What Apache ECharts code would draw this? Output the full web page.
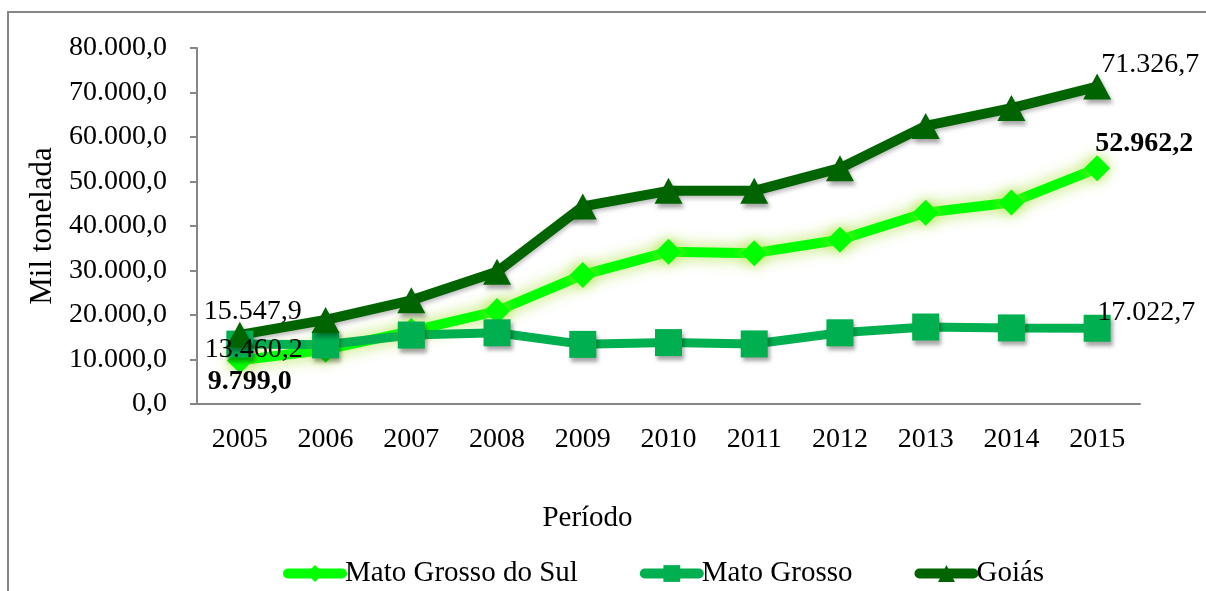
<!DOCTYPE html>
<html>
<head>
    <meta charset="utf-8">
    <title>Produção</title>
    <script src="https://cdn.jsdelivr.net/npm/echarts@6/dist/echarts.min.js"></script>
    <style>
        html, body { margin: 0; padding: 0; background: #fff; }
    </style>
</head>
<body>
    <div id="main" style="width: 1206px;height:591px;"></div>

    <script type="text/javascript">
    // dados
    var anos = ['2005', '2006', '2007', '2008', '2009', '2010', '2011', '2012', '2013', '2014', '2015'];
    var matoGrossoSul = [9799.0, 12200, 16400, 20900, 29000, 34200, 33900, 36900, 43000, 45300, 52962.2];
    var matoGrosso = [13460.2, 13300, 15500, 16000, 13400, 13800, 13500, 16000, 17300, 17100, 17022.7];
    var goias = [15547.9, 18900, 23300, 29700, 44400, 47900, 47900, 53000, 62500, 66500, 71326.7];

    var fonte = 'Liberation Serif, Times New Roman, serif';
    var cinza = '#868686';
    var tam = 28;

    function fmt(v) {
        var s = v.toFixed(1).split('.');
        return s[0].replace(/\B(?=(\d{3})+(?!\d))/g, '.') + ',' + s[1];
    }

    // rótulo só no primeiro e no último ponto
    function rotular(valores, offIni, offFim, negrito) {
        return valores.map(function (v, i) {
            if (i == 0 || i == valores.length - 1) {
                return {
                    value: v,
                    label: {
                        show: true,
                        position: 'inside',
                        offset: i == 0 ? offIni : offFim,
                        formatter: fmt(v),
                        color: '#000',
                        fontFamily: fonte,
                        fontSize: tam,
                        fontWeight: negrito ? 'bold' : 'normal'
                    }
                };
            }
            return v;
        });
    }

    var sombra = {
        shadowColor: 'rgba(0,0,0,0.35)',
        shadowBlur: 4,
        shadowOffsetX: 2,
        shadowOffsetY: 4
    };

    var myChart = echarts.init(document.getElementById('main'));

    var option = {
        backgroundColor: '#fff',
        animation: false,
        graphic: [{
            type: 'rect',
            shape: { x: 8, y: 12, width: 1400, height: 800 },
            style: { fill: 'none', stroke: cinza, lineWidth: 2 },
            silent: true
        }],
        grid: { left: 197, right: 66, top: 48, bottom: 187 },
        legend: {
            bottom: -2,
            left: 278,
            itemWidth: 54,
            itemHeight: 21,
            itemGap: 62,
            lineStyle: { width: 10, cap: 'round' },
            textStyle: { fontFamily: fonte, fontSize: 29, color: '#000', padding: [0, 0, 0, -2] },
            data: ['Mato Grosso do Sul', 'Mato Grosso', 'Goiás']
        },
        xAxis: {
            type: 'category',
            boundaryGap: true,
            data: anos,
            name: 'Período',
            nameLocation: 'middle',
            nameGap: 100,
            nameTextStyle: { fontFamily: fonte, fontSize: 29, color: '#000', padding: [0, 162, 0, 0] },
            axisLine: { lineStyle: { color: cinza, width: 2 } },
            axisTick: { length: 8, lineStyle: { color: cinza, width: 2 } },
            axisLabel: { fontFamily: fonte, fontSize: tam, color: '#000', margin: 22 }
        },
        yAxis: {
            type: 'value',
            min: 0,
            max: 80000,
            interval: 10000,
            name: 'Mil tonelada',
            nameLocation: 'middle',
            nameGap: 136,
            nameTextStyle: { fontFamily: fonte, fontSize: 31, color: '#000' },
            axisLine: { show: true, lineStyle: { color: cinza, width: 2 } },
            axisTick: { show: true, length: 7, lineStyle: { color: cinza, width: 2 } },
            splitLine: { show: false },
            axisLabel: {
                fontFamily: fonte, fontSize: tam, color: '#000', margin: 30,
                formatter: function (v) { return fmt(v); }
            }
        },
        series: [
            {
                name: 'Mato Grosso do Sul',
                type: 'line',
                data: rotular(matoGrossoSul, [10, 21], [47, -25], true),
                symbol: 'diamond',
                symbolSize: 26,
                showAllSymbol: true,
                color: '#00FF00',
                lineStyle: {
                    color: '#00FF00', width: 10,
                    shadowColor: 'rgba(170, 225, 60, 0.9)', shadowBlur: 16
                },
                itemStyle: {
                    color: '#00FF00',
                    shadowColor: 'rgba(170, 225, 60, 0.9)', shadowBlur: 14
                }
            },
            {
                name: 'Mato Grosso',
                type: 'line',
                data: rotular(matoGrosso, [14, 6], [49, -16], false),
                symbol: 'rect',
                symbolSize: 27,
                showAllSymbol: true,
                color: '#00B050',
                lineStyle: { color: '#00B050', width: 9 },
                itemStyle: Object.assign({ color: '#00B050' }, sombra)
            },
            {
                name: 'Goiás',
                type: 'line',
                data: rotular(goias, [13, -23], [53, -22], false),
                symbol: 'triangle',
                symbolSize: [28, 26],
                showAllSymbol: true,
                color: '#006400',
                lineStyle: {
                    color: '#006400', width: 10,
                    shadowColor: 'rgba(0,0,0,0.25)', shadowBlur: 4, shadowOffsetY: 3
                },
                itemStyle: Object.assign({ color: '#006400' }, sombra)
            }
        ]
    };

    myChart.setOption(option);
    </script>
</body>
</html>
